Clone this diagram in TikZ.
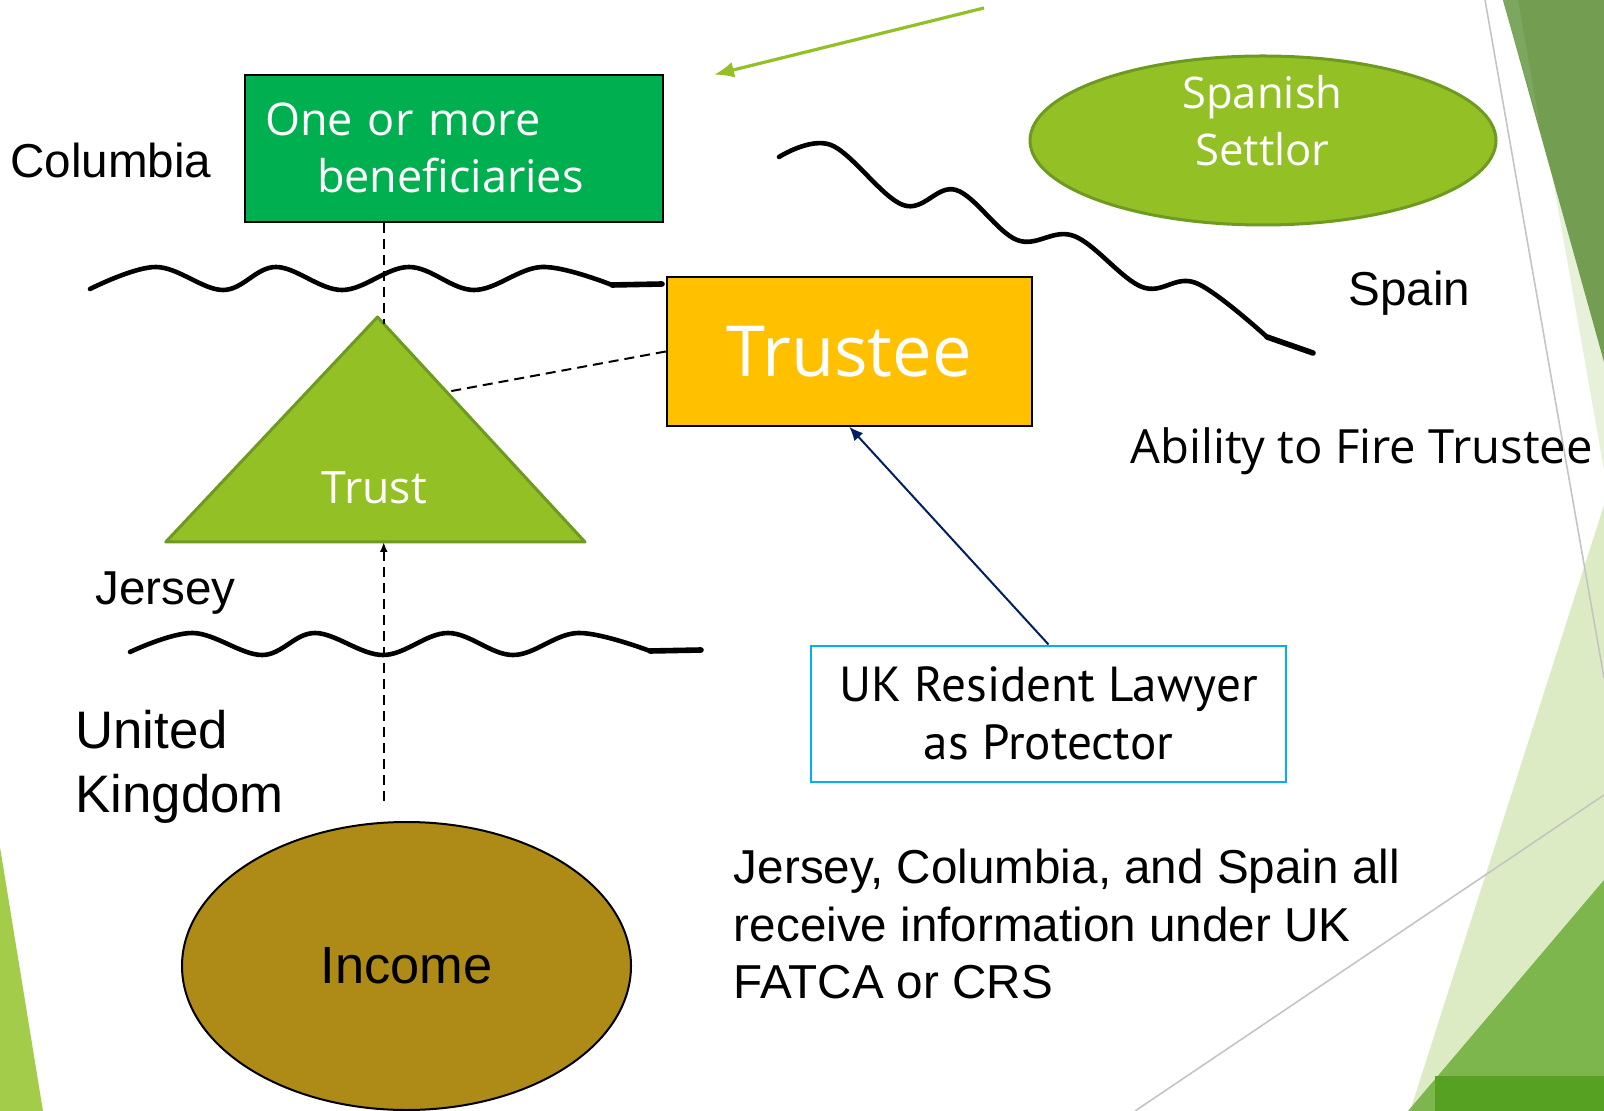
\documentclass[tikz,border=0pt]{standalone}
\usepackage{fontspec}
\setmainfont{Liberation Sans}
\newfontfamily\segoefont{Open Sans}
\newfontfamily\ptfont{PT Sans}
\usepackage{tikz}
\usetikzlibrary{calc,shapes,arrows.meta}

\definecolor{benefgreen}{HTML}{00B050}
\definecolor{trusteegold}{HTML}{FFC000}
\definecolor{leafgreen}{HTML}{92C025}
\definecolor{leafedge}{HTML}{6E9A22}
\definecolor{incomegold}{HTML}{AE8B17}
\definecolor{lawyerblue}{HTML}{00B0F0}
\definecolor{navy}{HTML}{002060}
\definecolor{leafdeep}{HTML}{739E52}
\definecolor{leafstrip}{HTML}{7BA75F}
\definecolor{leafpale}{HTML}{E7F0D9}
\definecolor{leaflight}{HTML}{DDEBC5}
\definecolor{leafmid}{HTML}{7CB64C}
\definecolor{leafdark}{HTML}{56A022}
\definecolor{leafside}{HTML}{A3CC4A}
\definecolor{rulegray}{HTML}{C4C4C4}

\newcommand{\fs}[2]{\fontsize{#1}{#2}\selectfont}

\begin{document}
\begin{tikzpicture}[x=0.5pt,y=-0.5pt,
  every node/.style={inner sep=0},
  place/.style={font=\fs{23.8pt}{28.85pt}},
  box/.style={draw,line width=1pt},
  wave/.style={line width=2.3pt,line cap=round,line join=round},
  link/.style={line width=1pt,dash pattern=on 5pt off 3pt},
  rule/.style={rulegray,line width=0.8pt}]
\useasboundingbox (0,0) rectangle (1604,1111);

% slide background
\fill[leafpale] (1553,180) -- (1604,470) -- (1604,180) -- cycle;
\fill[leaflight] (1604,505) -- (1410,1111) -- (1604,1111) -- cycle;
\fill[leafmid] (1604,880) -- (1408,1111) -- (1604,1111) -- cycle;
\fill[leafdark] (1435,1076) rectangle (1604,1111);
\fill[leafdeep] (1503,0) -- (1604,0) -- (1604,362) -- cycle;
\fill[leafstrip] (1503,0) -- (1518,0) -- (1540,127) -- cycle;
\draw[rule] (1485,0) -- (1604,678);
\draw[rule] (1135,1111) -- (1604,795);
\fill[leafside] (0,847) -- (43,1111) -- (0,1111) -- cycle;

% borders
\draw[wave] plot[smooth,tension=0.6] coordinates {(90,289) (156,267) (223,290) (276,267) (342,290) (409,267) (474,290) (542,267) (612,285)};
\draw[wave,line width=2.8pt] (612,285) -- (662,284);
\draw[wave] plot[smooth,tension=0.6] coordinates {(130,652) (193,633) (262,655) (315,633) (383,655) (448,633) (513,655) (578,633) (650,651)};
\draw[wave,line width=2.8pt] (650,651) -- (701,650);
\draw[wave] plot[smooth,tension=0.6] coordinates {(779,157) (831,145) (903,205) (956,190) (1017,240) (1074,236) (1142,287) (1196,283) (1267,337)};
\draw[wave,line width=2.8pt] (1267,337) -- (1313,353);

% shapes
\node[box,fill=benefgreen,text=white,minimum width=209pt,minimum height=73.6pt,
  text width=188.75pt,align=left,font=\segoefont\fs{22.5pt}{28.5pt}] (benef) at (453.8,148.3)
  {One or more\\\hspace*{26pt}beneficiaries};
\node[box,fill=trusteegold,text=white,minimum width=182.5pt,minimum height=74.2pt,
  font=\segoefont\fs{35.2pt}{40pt}] (trustee) at (849.2,351.5) {Trustee};
\node[ellipse,draw=leafedge,line width=1.5pt,fill=leafgreen,minimum width=233pt,
  minimum height=84.5pt] (settlor) at (1263,140.5) {};
\node[text=white,align=center,font=\segoefont\fs{21.8pt}{28.7pt}] (settlorl) at (1262.4,120.7) {Spanish\\Settlor};
\coordinate (apex) at (377.5,317);
\coordinate (trustl) at (165.7,542);
\coordinate (trustr) at (585,542);
\draw[leafedge,fill=leafgreen,line width=1.5pt,line join=round] (apex) -- (trustr) -- (trustl) -- cycle;
\node[text=white,font=\segoefont\fs{22.3pt}{30pt}] (trust) at (374.4,488) {Trust};
\node[ellipse,draw,line width=1pt,fill=incomegold,minimum width=224.5pt,minimum height=144pt,
  font=\fs{26.2pt}{30pt}] (income) at (406.5,966) {Income};
\node[draw=lawyerblue,line width=1pt,fill=white,minimum width=237.5pt,minimum height=68pt,
  align=center,font=\ptfont\fs{24.6pt}{29.15pt}] (lawyer) at (1048.5,713.5)
  {UK Resident Lawyer\\as Protector};

% places
\node[place,anchor=west] (columbia) at (10,160.6) {Columbia};
\node[place,anchor=west] (spain) at (1348,293.6) {Spain};
\node[place,anchor=west] (jersey) at (95,593) {Jersey};
\node[anchor=west,align=left,font=\fs{26.4pt}{32.25pt}] (uk) at (75,766.7) {United\\Kingdom};
\node[anchor=west,font=\segoefont\fs{23.6pt}{26pt}] (fire) at (1130,451) {Ability to Fire Trustee};
\node[place,anchor=west,align=left] (note) at (733.5,924)
  {Jersey, Columbia, and Spain all\\receive information under UK\\FATCA or CRS};

% links
\coordinate (apexdrop) at ($(apex)!0.03!(trustr)$);
\coordinate (trustfoot) at ($(trustl)!0.52!(trustr)$);
\draw[link] (benef.south -| apexdrop) -- (apexdrop);
\draw[link] (trustee.west) -- ($(apex)!0.333!(trustr)$);
\draw[link,-{Latex[length=5pt,width=4pt]}] ([yshift=10pt]trustfoot |- income.north) -- (trustfoot);
\draw[navy,line width=1pt,-{Latex[length=7pt,width=6pt]}] (lawyer.north) -- (trustee.south);
\coordinate (settlorarrow) at (984,8);
\coordinate (benefarrow) at (714,74.7);
\draw[leafgreen,line width=1.6pt,-{Latex[length=10pt,width=8pt]}] (settlorarrow) -- (benefarrow);

\end{tikzpicture}
\end{document}
